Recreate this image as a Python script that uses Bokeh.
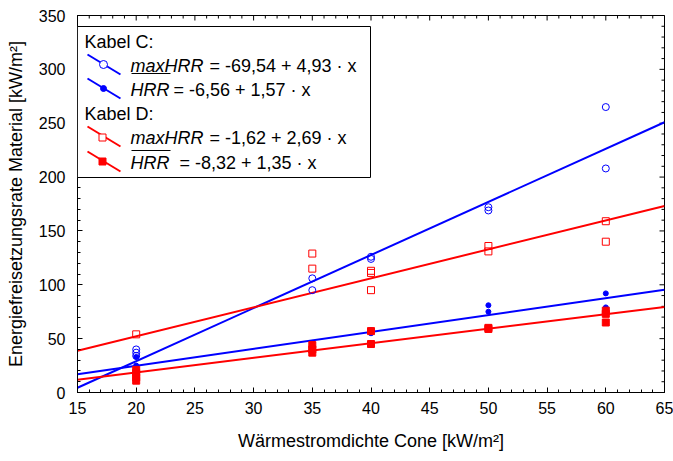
import math
from bokeh.plotting import figure
from bokeh.models import (SingleIntervalTicker, Range1d, Label,
                          BoxAnnotation, Arrow)
from bokeh.embed import file_html
from bokeh.resources import INLINE

# ---------------- data ----------------
x_c_max = [20, 20, 20, 35, 35, 40, 40, 50, 50, 60, 60]
y_c_max = [40, 37, 34, 106, 95, 126, 124, 172, 169, 265, 208]

x_c_mean = [20, 20, 35, 35, 40, 40, 50, 50, 60, 60]
y_c_mean = [33, 25, 46, 43, 58, 55, 81, 75, 92, 79]

x_d_max = [20, 35, 35, 40, 40, 40, 50, 50, 60, 60]
y_d_max = [54, 129, 115, 113, 111, 95, 136, 131, 159, 140]

x_d_mean = [20, 20, 20, 20, 35, 35, 35, 40, 40, 50, 50, 60, 60, 60]
y_d_mean = [21, 18, 14, 11, 44, 40, 37, 57, 45, 60, 59, 76, 73, 65]

fit_intercepts = [-69.54, -6.56, -1.62, -8.32]
fit_slopes = [4.93, 1.57, 2.69, 1.35]
fit_colors = ["#0000FF", "#0000FF", "#FF0000", "#FF0000"]

x_range_vals = [15, 65]
y_range_vals = [0, 350]
x_major_ticks = [15, 20, 25, 30, 35, 40, 45, 50, 55, 60, 65]
y_major_ticks = [0, 50, 100, 150, 200, 250, 300, 350]
x_minor_step = 1
y_minor_step = 10

x_title = "Wärmestromdichte Cone [kW/m²]"
y_title = "Energiefreisetzungsrate Material [kW/m²]"

legend_groups = ["Kabel C:", "Kabel D:"]
legend_italic = ["maxHRR", "HRR", "maxHRR", "HRR"]
legend_rest = ["=  -69,54 + 4,93 · x", "= -6,56 + 1,57 · x",
               "= -1,62 + 2,69 · x", "= -8,32 + 1,35 · x"]

BLUE = "#0000FF"
RED = "#FF0000"
FONT = "Liberation Sans"

# ---------------- figure ----------------
p = figure(width=673, height=461,
           x_range=Range1d(*x_range_vals), y_range=Range1d(*y_range_vals),
           output_backend="svg", toolbar_location=None,
           min_border_left=77, min_border_right=9,
           min_border_top=15, min_border_bottom=69,
           background_fill_color="white", border_fill_color="white")
p.grid.visible = False
p.outline_line_color = "black"
p.outline_line_width = 1


def style_axis(ax, ticker):
    ax.ticker = ticker
    ax.axis_line_color = "black"
    ax.major_tick_line_color = "black"
    ax.minor_tick_line_color = "black"
    ax.major_tick_in = 5
    ax.major_tick_out = 0
    ax.minor_tick_in = 3
    ax.minor_tick_out = 0
    ax.major_label_text_font = FONT
    ax.major_label_text_font_size = "16px"
    ax.major_label_text_color = "black"
    ax.axis_label_text_font = FONT
    ax.axis_label_text_font_size = "18px"
    ax.axis_label_text_font_style = "normal"
    ax.axis_label_text_color = "black"


xa = p.xaxis[0]
ya = p.yaxis[0]
style_axis(xa, SingleIntervalTicker(interval=5, num_minor_ticks=5))
style_axis(ya, SingleIntervalTicker(interval=50, num_minor_ticks=5))
xa.axis_label = x_title
ya.axis_label = y_title
xa.major_label_standoff = 9
xa.axis_label_standoff = 14
ya.major_label_standoff = 12
ya.axis_label_standoff = 10

# ---------------- inward ticks on the top and right edges ----------------
x_minor_ticks = [v for v in range(x_range_vals[0], x_range_vals[1] + 1, x_minor_step)
                 if v not in x_major_ticks]
y_minor_ticks = [v for v in range(y_range_vals[0], y_range_vals[1] + 1, y_minor_step)
                 if v not in y_major_ticks]
top_y = y_range_vals[1]
right_x = x_range_vals[1]
p.scatter(x_major_ticks, [top_y] * len(x_major_ticks), marker="dash", size=10,
          angle=math.pi / 2, line_color="black", line_width=1)
p.scatter(x_minor_ticks, [top_y] * len(x_minor_ticks), marker="dash", size=6,
          angle=math.pi / 2, line_color="black", line_width=1)
p.scatter([right_x] * len(y_major_ticks), y_major_ticks, marker="dash", size=10,
          line_color="black", line_width=1)
p.scatter([right_x] * len(y_minor_ticks), y_minor_ticks, marker="dash", size=6,
          line_color="black", line_width=1)

# ---------------- fit lines ----------------
for a, b, c in zip(fit_intercepts, fit_slopes, fit_colors):
    xs = list(x_range_vals)
    ys = [a + b * xv for xv in xs]
    p.line(xs, ys, line_color=c, line_width=2)

# ---------------- data points ----------------
p.scatter(x_c_max, y_c_max, marker="circle", size=7, fill_color=None,
          line_color=BLUE, line_width=1)
p.scatter(x_c_mean, y_c_mean, marker="circle", size=5, fill_color=BLUE,
          line_color=BLUE)
p.scatter(x_d_max, y_d_max, marker="square", size=7, fill_color=None,
          line_color=RED, line_width=1)
p.scatter(x_d_mean, y_d_mean, marker="square", size=7, fill_color=RED,
          line_color=RED)

# ---------------- legend (screen-space annotations) ----------------
FL, FB = 77, 392  # frame left / bottom on the canvas


def sx(cx):
    return cx - FL


def sy(cy):
    return FB - cy


p.add_layout(BoxAnnotation(left=sx(77), right=sx(370), top=sy(26), bottom=sy(177),
                           left_units="screen", right_units="screen",
                           top_units="screen", bottom_units="screen",
                           fill_color="white", fill_alpha=1.0,
                           line_color="black", line_width=1, line_alpha=1.0))

group_y = [41, 113]
for txt, cy in zip(legend_groups, group_y):
    p.add_layout(Label(x=sx(84), y=sy(cy), x_units="screen", y_units="screen",
                       text=txt, text_font=FONT, text_font_size="18px",
                       text_baseline="middle", text_align="left",
                       text_color="black"))

row_y = [65, 89, 137, 162]
rest_x = [209, 173, 209, 179]
row_colors = [BLUE, BLUE, RED, RED]
for i in range(4):
    cy = row_y[i]
    p.add_layout(Label(x=sx(130), y=sy(cy), x_units="screen", y_units="screen",
                       text=legend_italic[i], text_font=FONT, text_font_size="18px",
                       text_font_style="italic",
                       text_baseline="middle", text_align="left", text_color="black"))
    p.add_layout(Label(x=sx(rest_x[i]), y=sy(cy), x_units="screen", y_units="screen",
                       text=legend_rest[i], text_font=FONT, text_font_size="18px",
                       text_baseline="middle", text_align="left", text_color="black"))
    # sample line
    p.add_layout(Arrow(end=None, x_start=sx(87), y_start=sy(cy - 11),
                       x_end=sx(120), y_end=sy(cy + 9),
                       start_units="screen", end_units="screen",
                       line_color=row_colors[i], line_width=2))

# overlines for mean HRR
for cy_line in [73, 150]:
    p.add_layout(Arrow(end=None, x_start=sx(131), y_start=sy(cy_line),
                       x_end=sx(170), y_end=sy(cy_line),
                       start_units="screen", end_units="screen",
                       line_color="black", line_width=1))

# legend markers
marker_specs = [  # (cx, cy, size, fill, line, radius)
    (103, 64, 8, "white", BLUE, 4),
    (103, 88, 6, BLUE, BLUE, 3),
    (102, 137, 7, "white", RED, 0),
    (102, 161, 7, RED, RED, 0),
]
for cx, cy, s, fc, lc, r in marker_specs:
    h = s / 2
    p.add_layout(BoxAnnotation(left=sx(cx - h), right=sx(cx + h),
                               top=sy(cy - h), bottom=sy(cy + h),
                               left_units="screen", right_units="screen",
                               top_units="screen", bottom_units="screen",
                               fill_color=fc, fill_alpha=1.0,
                               line_color=lc, line_width=1, line_alpha=1.0,
                               border_radius=r))

open("out.html", "w").write(file_html(p, INLINE))
